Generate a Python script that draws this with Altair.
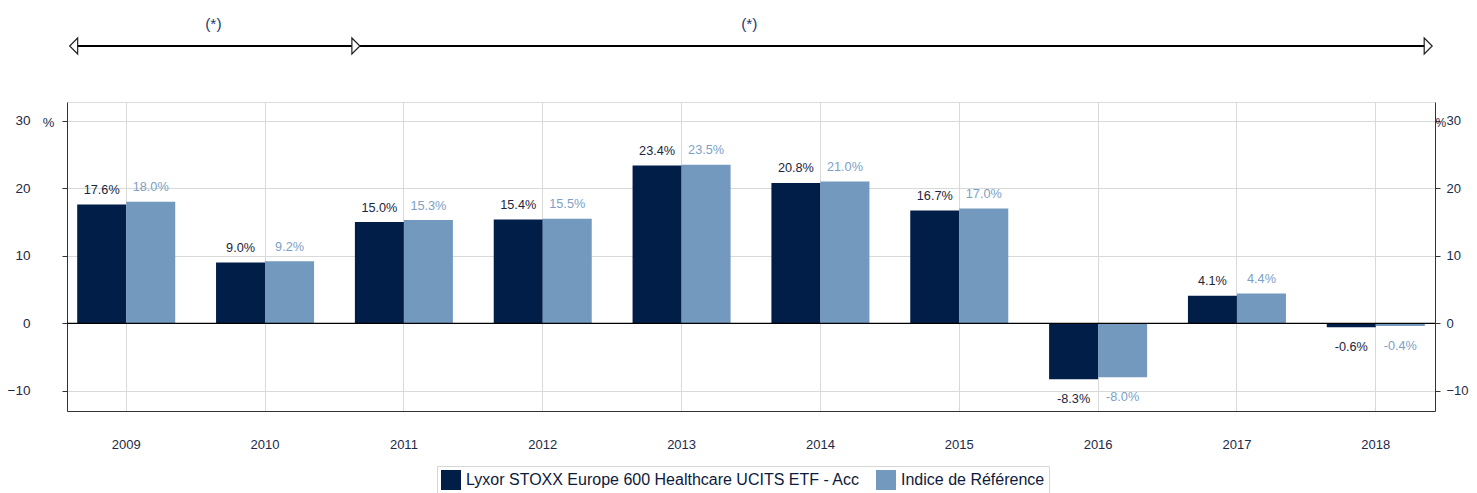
import altair as alt
import pandas as pd

# ---- data ----
years = ["2009", "2010", "2011", "2012", "2013", "2014", "2015", "2016", "2017", "2018"]
fund_values = [17.6, 9.0, 15.0, 15.4, 23.4, 20.8, 16.7, -8.3, 4.1, -0.6]
index_values = [18.0, 9.2, 15.3, 15.5, 23.5, 21.0, 17.0, -8.0, 4.4, -0.4]
series_names = ["Lyxor STOXX Europe 600 Healthcare UCITS ETF - Acc", "Indice de Référence"]

# period annotations (in year units / value units)
period_start = [2008.623, 2010.655]
period_end = [2010.655, 2018.376]
period_label = ["(*)", "(*)"]
period_label_x = [2009.629, 2013.488]
head_x = [2008.623, 2010.655, 2018.376]
head_dir = ["left", "right", "right"]
arrow_line_y = 41.1
arrow_text_y = 44.3

# ---- styles ----
bar_colors = ["#011e48", "#7399bf"]
label_colors = ["#1a2640", "#7c9fc6"]
navy = "#1b2a4a"
FONT = "Liberation Sans"

rows = []
for i, y in enumerate(years):
    rows.append({"year": y, "series": series_names[0], "value": fund_values[i],
                 "label": f"{fund_values[i]:.1f}%"})
    rows.append({"year": y, "series": series_names[1], "value": index_values[i],
                 "label": f"{index_values[i]:.1f}%"})
df = pd.DataFrame(rows)

periods_df = pd.DataFrame({"start": period_start, "end": period_end,
                           "y": [arrow_line_y] * len(period_start)})
labels_df = pd.DataFrame({"x": period_label_x, "text": period_label,
                          "y": [arrow_text_y] * len(period_label)})
heads_df = pd.DataFrame({"x": head_x, "dir": head_dir, "y": [arrow_line_y] * len(head_x)})

yscale = alt.Scale(domain=[-13, 32.8], nice=False, zero=False)
xscale = alt.Scale(domain=years, paddingInner=0.294, paddingOuter=0.0735)
offscale = alt.Scale(domain=series_names)

left_axis = alt.Axis(orient="left", values=[-10, 0, 10, 20, 30], grid=True,
                     gridColor="#d9d9d9", tickSize=5, tickColor="#333333",
                     domainColor="#333333", labelPadding=32, labelFontSize=13.5,
                     labelColor=navy, labelFont=FONT,
                     title="%", titleAngle=0, titleX=-19, titleY=20.5,
                     titleAlign="center", titleBaseline="middle",
                     titleFontWeight="normal", titleFontSize=13, titleColor=navy,
                     titleFont=FONT)
right_axis = alt.Axis(orient="right", values=[-10, 0, 10, 20, 30], grid=False,
                      tickSize=5, tickColor="#333333", domainColor="#333333",
                      labelPadding=6, labelFontSize=13, labelColor=navy,
                      labelFont=FONT,
                      title="%", titleAngle=0, titleX=0, titleY=20.5,
                      titleAlign="left", titleBaseline="middle",
                      titleFontWeight="normal", titleFontSize=12, titleColor=navy,
                      titleFont=FONT)
x_axis = alt.Axis(orient="bottom", title=None, labelAngle=0, ticks=False, grid=True,
                  gridColor="#d9d9d9", domainColor="#333333", labelPadding=27,
                  labelFontSize=13, labelColor=navy, labelFont=FONT)

base = alt.Chart(df)

bars = base.mark_bar().encode(
    x=alt.X("year:N", scale=xscale, axis=x_axis),
    xOffset=alt.XOffset("series:N", scale=offscale),
    y=alt.Y("value:Q", scale=yscale, axis=left_axis),
    color=alt.Color("series:N", scale=alt.Scale(domain=series_names, range=bar_colors),
                    legend=alt.Legend(orient="none", legendX=370, legendY=364,
                                      direction="horizontal", title=None,
                                      symbolType="square", symbolSize=400,
                                      symbolStrokeWidth=0, symbolOpacity=1,
                                      labelFontSize=16, labelColor="#0d1a3d",
                                      labelFont=FONT, strokeColor="#d6d6d6",
                                      fillColor="white", padding=4,
                                      columnPadding=16, labelOffset=5,
                                      labelLimit=600)),
)

label_color = alt.condition(alt.datum.series == series_names[0],
                            alt.value(label_colors[0]), alt.value(label_colors[1]))

pos_text = base.transform_filter("datum.value >= 0").mark_text(
    fontSize=12.7, font=FONT, baseline="middle", dy=-14.5).encode(
    x=alt.X("year:N", scale=xscale, axis=None),
    xOffset=alt.XOffset("series:N", scale=offscale),
    y=alt.Y("value:Q", scale=yscale, axis=None),
    text="label:N",
    color=label_color,
)
neg_text = base.transform_filter("datum.value < 0").mark_text(
    fontSize=12.7, font=FONT, baseline="middle", dy=20).encode(
    x=alt.X("year:N", scale=xscale, axis=None),
    xOffset=alt.XOffset("series:N", scale=offscale),
    y=alt.Y("value:Q", scale=yscale, axis=None),
    text="label:N",
    color=label_color,
)

zero_rule = alt.Chart(pd.DataFrame({"zero": [0]})).mark_rule(
    color="black", strokeWidth=1.2).encode(
    y=alt.Y("zero:Q", scale=yscale, axis=right_axis),
)

arrow_x = alt.Scale(domain=[2008.575, 2018.425], nice=False, zero=False)

arrow_lines = alt.Chart(periods_df).mark_rule(color="black", strokeWidth=2).encode(
    x=alt.X("start:Q", scale=arrow_x, axis=None),
    x2="end:Q",
    y=alt.Y("y:Q", scale=yscale, axis=None),
)
tri_right = "M-0.5,-1L0.5,0L-0.5,1Z"
tri_left = "M0.5,-1L-0.5,0L0.5,1Z"
arrow_heads = alt.Chart(heads_df).mark_point(
    filled=True, fill="white", stroke="#222222", strokeWidth=1.2, opacity=1, size=256).encode(
    x=alt.X("x:Q", scale=arrow_x, axis=None),
    y=alt.Y("y:Q", scale=yscale, axis=None),
    shape=alt.Shape("dir:N", scale=alt.Scale(domain=["left", "right"],
                                             range=[tri_left, tri_right]), legend=None),
)
arrow_text = alt.Chart(labels_df).mark_text(
    fontSize=15.5, font=FONT, color="#1f3b6e", baseline="middle").encode(
    x=alt.X("x:Q", scale=arrow_x, axis=None),
    y=alt.Y("y:Q", scale=yscale, axis=None),
    text="text:N",
)

chart = alt.layer(bars, pos_text, neg_text, zero_rule,
                  arrow_lines, arrow_heads, arrow_text).resolve_scale(
    x="independent", xOffset="independent", shape="independent"
).resolve_axis(y="independent", x="independent").properties(
    width=1368, height=309,
    autosize=alt.AutoSizeParams(type="none"),
    padding={"left": 59, "top": 94, "right": 34, "bottom": 100},
).configure_view(stroke=None).configure(font=FONT)

chart.save("out.html", embed_options={"renderer": "svg", "actions": False})
